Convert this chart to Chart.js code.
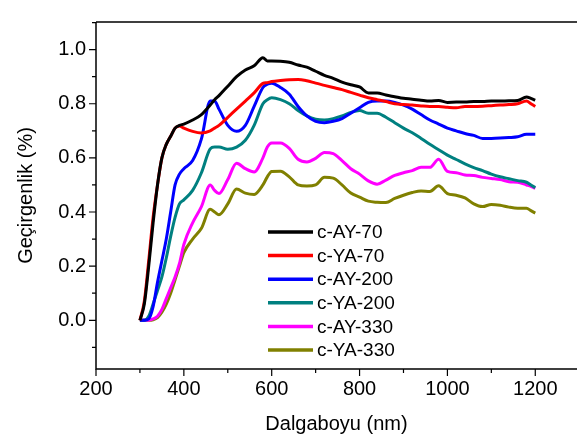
<!DOCTYPE html>
<html>
<head>
<meta charset="utf-8">
<script src="https://cdn.jsdelivr.net/npm/chart.js@4.4.1/dist/chart.umd.min.js"></script>
<style>
  html, body { margin: 0; padding: 0; background: #fff; }
  #wrap { width: 577px; height: 438px; }
</style>
</head>
<body>
<div id="wrap"><canvas id="chart" width="577" height="438"></canvas></div>
<script>
// wavelength (nm)
const wavelengths = [300, 310, 320, 330, 340, 350, 360, 370, 380, 390, 400, 420, 440, 460, 470, 480,
    500, 520, 540, 560, 580, 590, 600, 620, 640, 660, 680, 700, 720, 740, 760, 780, 800, 820, 840,
    860, 880, 900, 920, 940, 960, 980, 1000, 1020, 1040, 1060, 1080, 1100, 1120, 1140, 1160, 1180,
    1190, 1200];

const ay70 = [0, 0.06, 0.2, 0.36, 0.5, 0.6, 0.65, 0.68, 0.71, 0.72, 0.725, 0.74, 0.76, 0.795, 0.815, 0.83,
    0.865, 0.9, 0.925, 0.94, 0.97, 0.958, 0.958, 0.957, 0.953, 0.943, 0.935, 0.92, 0.905, 0.894, 0.88,
    0.87, 0.862, 0.84, 0.84, 0.832, 0.826, 0.82, 0.817, 0.813, 0.81, 0.812, 0.805, 0.806, 0.806, 0.808,
    0.808, 0.81, 0.81, 0.811, 0.812, 0.825, 0.82, 0.813];

const ya70 = [0, 0.07, 0.22, 0.38, 0.5, 0.6, 0.65, 0.68, 0.71, 0.718, 0.71, 0.698, 0.692, 0.7, 0.71, 0.72,
    0.75, 0.78, 0.81, 0.84, 0.875, 0.878, 0.882, 0.886, 0.889, 0.89, 0.885, 0.876, 0.868, 0.86, 0.852,
    0.842, 0.832, 0.822, 0.815, 0.808, 0.8, 0.797, 0.795, 0.792, 0.79, 0.79, 0.787, 0.785, 0.79, 0.79,
    0.791, 0.793, 0.795, 0.797, 0.8, 0.81, 0.8, 0.79];

const ay200 = [0, 0, 0.005, 0.05, 0.14, 0.22, 0.3, 0.4, 0.5, 0.54, 0.56, 0.59, 0.67, 0.81, 0.81, 0.78,
    0.72, 0.698, 0.72, 0.79, 0.86, 0.872, 0.876, 0.86, 0.835, 0.79, 0.755, 0.735, 0.73, 0.735, 0.745,
    0.765, 0.785, 0.805, 0.81, 0.81, 0.805, 0.795, 0.78, 0.76, 0.74, 0.725, 0.71, 0.7, 0.69, 0.683,
    0.672, 0.672, 0.673, 0.675, 0.678, 0.687, 0.687, 0.687];

const ya200 = [0, 0, 0.015, 0.06, 0.11, 0.16, 0.23, 0.31, 0.38, 0.43, 0.445, 0.48, 0.545, 0.633, 0.64, 0.64,
    0.632, 0.64, 0.665, 0.72, 0.8, 0.815, 0.822, 0.815, 0.8, 0.775, 0.755, 0.743, 0.74, 0.745, 0.755,
    0.768, 0.775, 0.765, 0.765, 0.75, 0.73, 0.71, 0.693, 0.672, 0.65, 0.63, 0.61, 0.594, 0.578, 0.564,
    0.553, 0.54, 0.53, 0.523, 0.516, 0.51, 0.5, 0.49];

const ay330 = [0, 0, 0, 0.005, 0.015, 0.04, 0.08, 0.12, 0.16, 0.21, 0.28, 0.36, 0.42, 0.5, 0.48, 0.468,
    0.52, 0.58, 0.56, 0.548, 0.6, 0.64, 0.655, 0.655, 0.635, 0.595, 0.585, 0.598, 0.62, 0.616, 0.59,
    0.56, 0.54, 0.515, 0.503, 0.518, 0.535, 0.545, 0.553, 0.565, 0.565, 0.595, 0.55, 0.545, 0.537, 0.535,
    0.528, 0.524, 0.52, 0.512, 0.51, 0.5, 0.495, 0.487];

const ya330 = [0, 0, 0, 0.002, 0.01, 0.03, 0.06, 0.1, 0.15, 0.2, 0.25, 0.3, 0.34, 0.41, 0.4, 0.39,
    0.43, 0.485, 0.47, 0.465, 0.5, 0.53, 0.55, 0.551, 0.53, 0.5, 0.496, 0.5, 0.528, 0.525, 0.5,
    0.47, 0.455, 0.44, 0.436, 0.435, 0.45, 0.462, 0.472, 0.478, 0.476, 0.497, 0.468, 0.462, 0.452, 0.43,
    0.42, 0.428, 0.425, 0.418, 0.414, 0.414, 0.405, 0.396];

const seriesNames = ["c-AY-70", "c-YA-70", "c-AY-200", "c-YA-200", "c-AY-330", "c-YA-330"];
const seriesValues = [ay70, ya70, ay200, ya200, ay330, ya330];
const seriesColors = ["#000000", "#ff0000", "#0000ff", "#008080", "#ff00ff", "#808000"];

// tick positions (labelled ones are the majors)
const xTicks = [200, 300, 400, 500, 600, 700, 800, 900, 1000, 1100, 1200, 1300];
const xMajor = [200, 400, 600, 800, 1000, 1200];
const yTicks = [-0.1, 0.0, 0.1, 0.2, 0.3, 0.4, 0.5, 0.6, 0.7, 0.8, 0.9, 1.0, 1.1];
const yMajor = [0.0, 0.2, 0.4, 0.6, 0.8, 1.0];

const FONT = "'Liberation Sans', Arial, sans-serif";

const toPoints = (vals) => vals.map((v, i) => ({ x: wavelengths[i], y: v }));

const isMajor = (v, list) => list.some((m) => Math.abs(m - v) < 1e-6);

// ticks, frame and the inner legend
const framePlugin = {
    id: "frame",
    afterDraw(chart) {
        const ctx = chart.ctx;
        const a = chart.chartArea;
        const xs = chart.scales.x;
        const ys = chart.scales.y;
        ctx.save();
        ctx.strokeStyle = "#000";
        ctx.lineWidth = 1.5;
        ctx.beginPath();
        ctx.moveTo(a.left, a.top);
        ctx.lineTo(a.right, a.top);
        ctx.moveTo(a.left, a.top);
        ctx.lineTo(a.left, a.bottom);
        ctx.lineTo(a.right, a.bottom);
        ctx.stroke();

        ctx.lineWidth = 1.2;
        ctx.beginPath();
        xTicks.forEach((v) => {
            const px = xs.getPixelForValue(v);
            const len = isMajor(v, xMajor) ? 7 : 4;
            ctx.moveTo(px, a.bottom);
            ctx.lineTo(px, a.bottom + len);
        });
        yTicks.forEach((v) => {
            const py = ys.getPixelForValue(v);
            const len = isMajor(v, yMajor) ? 7 : 4;
            ctx.moveTo(a.left, py);
            ctx.lineTo(a.left - len, py);
        });
        ctx.stroke();

        // legend
        ctx.font = "19px " + FONT;
        ctx.textBaseline = "middle";
        ctx.textAlign = "left";
        seriesNames.forEach((name, i) => {
            const y = 232 + i * 23.6;
            ctx.strokeStyle = seriesColors[i];
            ctx.lineWidth = 3.5;
            ctx.beginPath();
            ctx.moveTo(268, y);
            ctx.lineTo(313, y);
            ctx.stroke();
            ctx.fillStyle = "#000";
            ctx.fillText(name, 317, y + 1);
        });
        ctx.restore();
    }
};

new Chart(document.getElementById("chart"), {
    type: "line",
    data: {
        datasets: seriesNames.map((name, i) => ({
            label: name,
            data: toPoints(seriesValues[i]),
            borderColor: seriesColors[i],
            backgroundColor: seriesColors[i],
            borderWidth: 3,
            pointRadius: 0,
            cubicInterpolationMode: "monotone",
            fill: false
        }))
    },
    options: {
        responsive: false,
        animation: false,
        layout: { padding: { top: 8, right: 0, left: 0, bottom: 0 } },
        plugins: {
            legend: { display: false },
            tooltip: { enabled: false }
        },
        scales: {
            x: {
                type: "linear",
                min: 200,
                max: 1295,
                afterBuildTicks: (s) => { s.ticks = xMajor.map((v) => ({ value: v })); },
                afterFit: (s) => { s.height = 69; },
                grid: { display: false, drawTicks: false },
                border: { display: false },
                ticks: {
                    padding: 8,
                    maxRotation: 0,
                    autoSkip: false,
                    color: "#000",
                    font: { family: FONT, size: 20 },
                    callback: (v) => String(v)
                },
                title: {
                    display: true,
                    text: "Dalgaboyu (nm)",
                    color: "#000",
                    font: { family: FONT, size: 20 },
                    padding: { top: 0, bottom: 2 }
                }
            },
            y: {
                type: "linear",
                min: -0.18,
                max: 1.102,
                afterBuildTicks: (s) => { s.ticks = yMajor.map((v) => ({ value: v })); },
                afterFit: (s) => { s.width = 96; },
                grid: { display: false, drawTicks: false },
                border: { display: false },
                ticks: {
                    padding: 10,
                    autoSkip: false,
                    color: "#000",
                    font: { family: FONT, size: 20 },
                    callback: (v) => v.toFixed(1)
                },
                title: {
                    display: true,
                    text: "Geçirgenlik (%)",
                    color: "#000",
                    font: { family: FONT, size: 20 },
                    padding: { top: 14, bottom: 0 }
                }
            }
        }
    },
    plugins: [framePlugin]
});
</script>
</body>
</html>
